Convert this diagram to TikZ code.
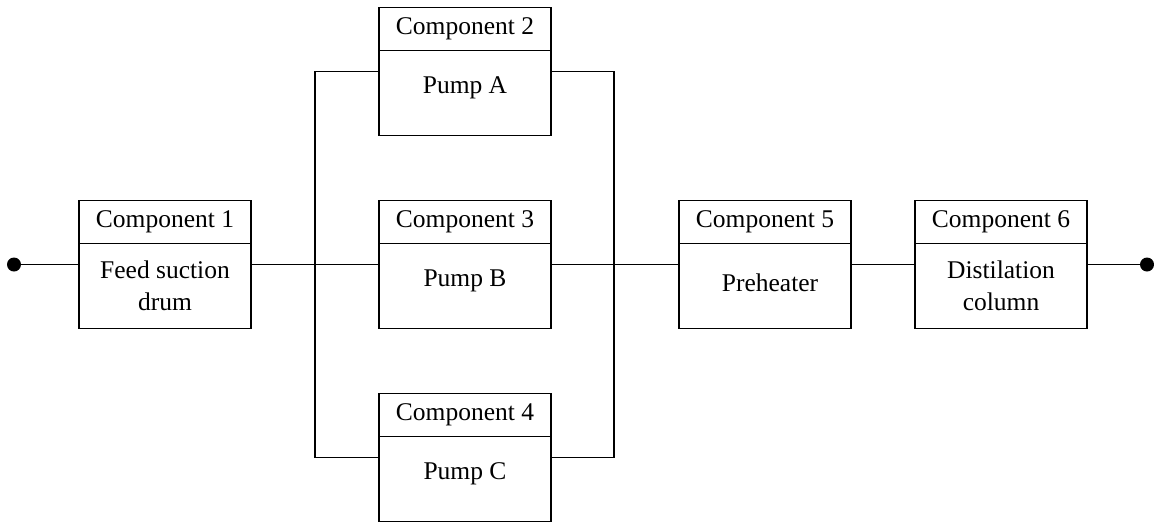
\documentclass[tikz,border=0pt]{standalone}
\usepackage{fontspec}
\setmainfont{Liberation Serif}
\usetikzlibrary{calc}
\begin{document}
\begin{tikzpicture}[x=1pt,y=-1pt,
  every node/.style={font=\fontsize{25.5}{32}\selectfont},
  comp/.style={draw,line width=1.6pt,minimum width=172pt,minimum height=128pt,inner sep=0pt,outer sep=0pt},
  head/.style={draw,line width=1.6pt,minimum width=172pt,minimum height=43pt,inner sep=0pt,outer sep=0pt,anchor=north},
  bodytext/.style={align=center,inner sep=0pt},
  wire/.style={line width=1.6pt},
  dotnode/.style={circle,fill=black,minimum size=14pt,inner sep=0pt,outer sep=0pt}]
\useasboundingbox (0,0) rectangle (1154,523);
% components
\node[comp] (c1) at (165,264.5) {};
\node[head] (c1h) at (c1.north) {Component 1};
\node[bodytext] (c1b) at ($(c1h.south)!0.5!(c1.south)$) {Feed suction\\drum};
\node[comp] (c2) at (465,71.5) {};
\node[head] (c2h) at (c2.north) {Component 2};
\node[bodytext] (c2b) at ($(c2h.south)!0.5!(c2.south)+(0,-5)$) {Pump A};
\node[comp] (c3) at (465,264.5) {};
\node[head] (c3h) at (c3.north) {Component 3};
\node[bodytext] (c3b) at ($(c3h.south)!0.5!(c3.south)+(0,-5)$) {Pump B};
\node[comp] (c4) at (465,457.5) {};
\node[head] (c4h) at (c4.north) {Component 4};
\node[bodytext] (c4b) at ($(c4h.south)!0.5!(c4.south)+(0,-5)$) {Pump C};
\node[comp] (c5) at (765,264.5) {};
\node[head] (c5h) at (c5.north) {Component 5};
\node[bodytext] (c5b) at ($(c5h.south)!0.5!(c5.south)+(5,-3)$) {Preheater};
\node[comp] (c6) at (1001,264.5) {};
\node[head] (c6h) at (c6.north) {Component 6};
\node[bodytext] (c6b) at ($(c6h.south)!0.5!(c6.south)$) {Distilation\\column};
% terminals
\node[dotnode] (s) at (14,264.5) {};
\node[dotnode] (t) at (1147,264.5) {};
% bus coordinates
\coordinate (Lt) at ($(c2.west)+(-64,0)$);
\coordinate (Lb) at (Lt |- c4.west);
\coordinate (Rt) at ($(c2.east)+(63,0)$);
\coordinate (Rb) at (Rt |- c4.east);
% connectors
\draw[wire] (s.center) -- (c1.west);
\draw[wire] (c1.east) -- (c3.west);
\draw[wire] (c2.west) -- (Lt) -- (Lb) -- (c4.west);
\draw[wire] (c2.east) -- (Rt) -- (Rb) -- (c4.east);
\draw[wire] (c3.east) -- (c5.west);
\draw[wire] (c5.east) -- (c6.west);
\draw[wire] (c6.east) -- (t.center);
\end{tikzpicture}
\end{document}
